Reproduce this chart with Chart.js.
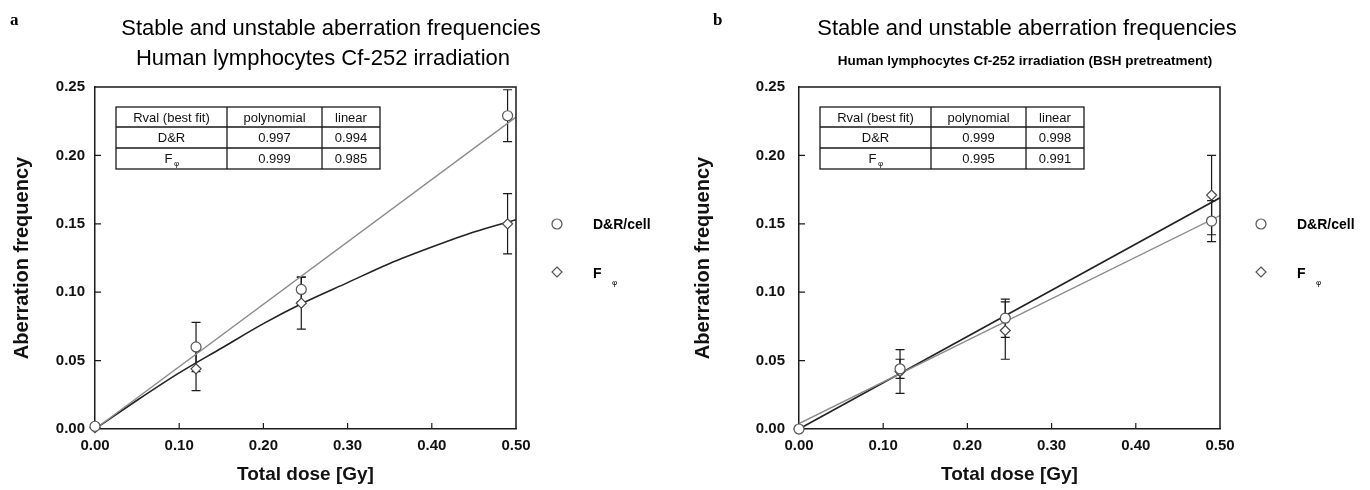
<!DOCTYPE html>
<html>
<head>
<meta charset="utf-8">
<script src="https://cdn.jsdelivr.net/npm/chart.js@4.4.0/dist/chart.umd.min.js"></script>
<style>
body { margin: 0; background: #fff; }
#wrap { display: flex; width: 1370px; height: 490px; }
.box { width: 685px; height: 490px; }
</style>
</head>
<body>
<div id="wrap">
  <div class="box"><canvas id="chartA" width="685" height="490"></canvas></div>
  <div class="box"><canvas id="chartB" width="685" height="490"></canvas></div>
</div>
<script>
// dose levels (Gy) and axis ticks
const doses = [0, 0.12, 0.245, 0.49];
const xTicks = [0, 0.1, 0.2, 0.3, 0.4, 0.5];
const yTicks = [0, 0.05, 0.10, 0.15, 0.20, 0.25];

// panel a - measured frequencies and error bars
const drA = [0.002, 0.060, 0.102, 0.229];
const drErrA = [0, 0.018, 0.009, 0.019];
const fA = [0.001, 0.044, 0.092, 0.150];
const fErrA = [0, 0.016, 0.019, 0.022];
// panel a - fitted curves
const lineX = [0, 0.5];
const drFitA = [0.0, 0.228];
const curveX = [0, 0.05, 0.1, 0.15, 0.2, 0.25, 0.3, 0.35, 0.4, 0.45, 0.5];
const fFitA = [0, 0.021, 0.041, 0.059, 0.077, 0.093, 0.107, 0.121, 0.133, 0.144, 0.153];

// panel b
const drB = [0.0, 0.044, 0.081, 0.152];
const drErrB = [0, 0.007, 0.014, 0.015];
const fB = [0.0, 0.042, 0.072, 0.171];
const fErrB = [0, 0.016, 0.021, 0.029];
const drFitB = [0.004, 0.156];
const fFitB = [0.0, 0.169];

// text
const mainTitle = 'Stable and unstable aberration frequencies';
const subTitleA = 'Human lymphocytes Cf-252 irradiation';
const subTitleB = 'Human lymphocytes Cf-252 irradiation (BSH pretreatment)';
const tableHead = ['Rval (best fit)', 'polynomial', 'linear'];
const rowNames = ['D&R', 'F'];
const rvalDrA = ['0.997', '0.994'];
const rvalFA = ['0.999', '0.985'];
const rvalDrB = ['0.999', '0.998'];
const rvalFB = ['0.995', '0.991'];
const legendNames = ['D&R/cell', 'F'];

const FONT = '"Liberation Sans", Arial, sans-serif';
const INK = '#1a1a1a';

function pts(xs, ys) {
    return xs.map((x, i) => ({ x: x, y: ys[i] }));
}

function drawCircle(ctx, x, y, r) {
    ctx.beginPath();
    ctx.arc(x, y, r, 0, Math.PI * 2);
    ctx.fillStyle = '#fff';
    ctx.fill();
    ctx.stroke();
}

function drawDiamond(ctx, x, y, r) {
    ctx.beginPath();
    ctx.moveTo(x, y - r);
    ctx.lineTo(x + r, y);
    ctx.lineTo(x, y + r);
    ctx.lineTo(x - r, y);
    ctx.closePath();
    ctx.fillStyle = '#fff';
    ctx.fill();
    ctx.stroke();
}

function makePlugin(p) {
    return {
        id: 'extras',
        beforeDatasetsDraw(chart) {
            // error bars
            const ctx = chart.ctx;
            const xs = chart.scales.x, ys = chart.scales.y;
            ctx.save();
            ctx.strokeStyle = INK;
            ctx.lineWidth = 1.2;
            [[p.dr, p.drErr], [p.f, p.fErr]].forEach(([vals, errs]) => {
                vals.forEach((v, i) => {
                    if (!errs[i]) return;
                    const x = xs.getPixelForValue(doses[i]);
                    const y1 = ys.getPixelForValue(v - errs[i]);
                    const y2 = ys.getPixelForValue(v + errs[i]);
                    ctx.beginPath();
                    ctx.moveTo(x, y1); ctx.lineTo(x, y2);
                    ctx.moveTo(x - 4.5, y1); ctx.lineTo(x + 4.5, y1);
                    ctx.moveTo(x - 4.5, y2); ctx.lineTo(x + 4.5, y2);
                    ctx.stroke();
                });
            });
            ctx.restore();
        },
        afterDraw(chart) {
            const ctx = chart.ctx;
            const a = chart.chartArea;
            const xs = chart.scales.x, ys = chart.scales.y;
            ctx.save();

            // frame top and right
            ctx.strokeStyle = INK;
            ctx.lineWidth = 1.5;
            ctx.beginPath();
            ctx.moveTo(a.left, a.top); ctx.lineTo(a.right, a.top); ctx.lineTo(a.right, a.bottom);
            ctx.stroke();

            // inward tick marks
            ctx.lineWidth = 1.2;
            ctx.beginPath();
            xTicks.slice(1, -1).forEach(v => {
                const x = xs.getPixelForValue(v);
                ctx.moveTo(x, a.bottom); ctx.lineTo(x, a.bottom - 6);
            });
            yTicks.slice(1, -1).forEach(v => {
                const y = ys.getPixelForValue(v);
                ctx.moveTo(a.left, y); ctx.lineTo(a.left + 6, y);
            });
            ctx.stroke();

            // titles
            ctx.fillStyle = '#000';
            ctx.textAlign = 'center';
            ctx.textBaseline = 'middle';
            ctx.font = '22px ' + FONT;
            ctx.fillText(mainTitle, p.titleX, 29);
            ctx.font = p.subFont;
            ctx.fillText(p.subTitle, p.subX, p.subY);

            // panel letter
            ctx.textAlign = 'left';
            ctx.font = 'bold 17px "Liberation Serif", serif';
            ctx.fillText(p.letter, p.letterX, 21);

            // R value table
            const colW = [111, 95, 58];
            const rowH = [20, 21, 21];
            const x0 = a.left + 21, y0 = a.top + 20;
            const W = colW.reduce((s, w) => s + w, 0);
            const H = rowH.reduce((s, h) => s + h, 0);
            ctx.strokeStyle = INK;
            ctx.lineWidth = 1.3;
            ctx.strokeRect(x0, y0, W, H);
            ctx.beginPath();
            let cx = x0;
            colW.slice(0, -1).forEach(w => { cx += w; ctx.moveTo(cx, y0); ctx.lineTo(cx, y0 + H); });
            let cy = y0;
            rowH.slice(0, -1).forEach(h => { cy += h; ctx.moveTo(x0, cy); ctx.lineTo(x0 + W, cy); });
            ctx.stroke();
            const rows = [tableHead, [rowNames[0]].concat(p.rvalDr), [rowNames[1]].concat(p.rvalF)];
            ctx.font = '13px ' + FONT;
            ctx.textAlign = 'center';
            ctx.fillStyle = '#111';
            let ry = y0;
            rows.forEach((row, r) => {
                let rx = x0;
                row.forEach((txt, c) => {
                    const mx = rx + colW[c] / 2, my = ry + rowH[r] / 2 + 1;
                    if (r === 2 && c === 0) {
                        ctx.fillText(txt, mx - 3, my);
                        ctx.font = '8px ' + FONT;
                        ctx.fillText('\u03C6', mx + 5, my + 4);
                        ctx.font = '13px ' + FONT;
                    } else {
                        ctx.fillText(txt, mx, my);
                    }
                    rx += colW[c];
                });
                ry += rowH[r];
            });

            // legend
            const lx = a.right + p.legendDx;
            ctx.strokeStyle = '#555';
            ctx.lineWidth = 1.2;
            drawCircle(ctx, lx, 224, 5);
            drawDiamond(ctx, lx, 272, 5);
            ctx.fillStyle = '#000';
            ctx.textAlign = 'left';
            ctx.font = 'bold 14px ' + FONT;
            ctx.fillText(legendNames[0], lx + 36, 225);
            ctx.fillText(legendNames[1], lx + 36, 274);
            ctx.font = '8px ' + FONT;
            ctx.fillText('\u03C6', lx + 55, 283);
            ctx.restore();
        }
    };
}

function makeChart(id, p) {
    const axisTick = { weight: 'bold', size: 15, family: FONT };
    const axisTitle = { weight: 'bold', size: 19, family: FONT };
    const yTitleFont = { weight: 'bold', size: 20, family: FONT };
    return new Chart(document.getElementById(id).getContext('2d'), {
        type: 'scatter',
        data: {
            datasets: [
                {
                    label: legendNames[0],
                    data: pts(doses, p.dr),
                    pointStyle: 'circle',
                    pointRadius: 5,
                    pointBorderColor: '#555',
                    pointBackgroundColor: '#fff',
                    pointBorderWidth: 1.2,
                    showLine: false,
                    clip: false
                },
                {
                    label: legendNames[1],
                    data: pts(doses, p.f),
                    pointStyle: 'rectRot',
                    pointRadius: 5,
                    pointBorderColor: '#444',
                    pointBackgroundColor: '#fff',
                    pointBorderWidth: 1.2,
                    showLine: false,
                    clip: false
                },
                {
                    label: 'D&R fit',
                    data: pts(p.drFitX, p.drFit),
                    showLine: true,
                    pointRadius: 0,
                    borderColor: '#8a8a8a',
                    borderWidth: 1.4
                },
                {
                    label: 'F fit',
                    data: pts(p.fFitX, p.fFit),
                    showLine: true,
                    pointRadius: 0,
                    borderColor: '#222',
                    borderWidth: 1.6,
                    cubicInterpolationMode: 'monotone'
                }
            ]
        },
        options: {
            responsive: false,
            animation: false,
            events: [],
            layout: { padding: { left: 0, right: p.padRight, top: 87, bottom: 0 } },
            plugins: { legend: { display: false }, tooltip: { enabled: false } },
            scales: {
                x: {
                    type: 'linear',
                    min: 0,
                    max: 0.5,
                    afterBuildTicks: s => { s.ticks = xTicks.map(v => ({ value: v })); },
                    afterFit: s => { s.height = 61; },
                    ticks: { callback: v => v.toFixed(2), font: axisTick, color: '#111', padding: 8, maxRotation: 0 },
                    grid: { display: false, drawTicks: false },
                    border: { color: INK, width: 1.5 },
                    title: { display: true, text: 'Total dose [Gy]', font: axisTitle, color: '#111', padding: { top: 4, bottom: 4 } }
                },
                y: {
                    min: 0,
                    max: 0.25,
                    afterBuildTicks: s => { s.ticks = yTicks.map(v => ({ value: v })); },
                    afterFit: s => { s.width = p.yWidth; },
                    ticks: { callback: v => v.toFixed(2), font: axisTick, color: '#111', padding: p.yPad },
                    grid: { display: false, drawTicks: false },
                    border: { color: INK, width: 1.5 },
                    title: { display: true, text: 'Aberration frequency', font: yTitleFont, color: '#111', padding: { top: p.yTitlePad, bottom: 0 } }
                }
            }
        },
        plugins: [makePlugin(p)]
    });
}

makeChart('chartA', {
    dr: drA, drErr: drErrA, f: fA, fErr: fErrA,
    drFitX: lineX, drFit: drFitA, fFitX: curveX, fFit: fFitA,
    rvalDr: rvalDrA, rvalF: rvalFA,
    subTitle: subTitleA, subFont: '22px ' + FONT, subX: 323, subY: 59,
    titleX: 331, letter: 'a', letterX: 10, legendDx: 41,
    yWidth: 95, yPad: 10, yTitlePad: 10, padRight: 169
});

makeChart('chartB', {
    dr: drB, drErr: drErrB, f: fB, fErr: fErrB,
    drFitX: lineX, drFit: drFitB, fFitX: lineX, fFit: fFitB,
    rvalDr: rvalDrB, rvalF: rvalFB,
    subTitle: subTitleB, subFont: 'bold 13.5px ' + FONT, subX: 340, subY: 61,
    titleX: 342, letter: 'b', letterX: 28, legendDx: 41,
    yWidth: 114, yPad: 14, yTitlePad: 6, padRight: 150
});
</script>
</body>
</html>
